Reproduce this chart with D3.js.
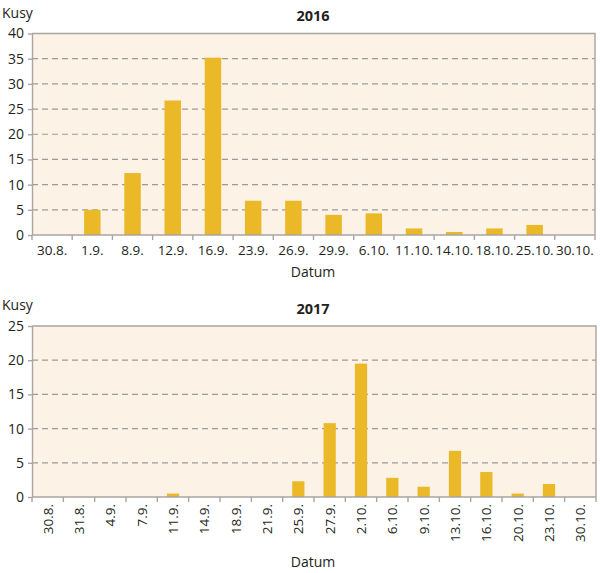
<!DOCTYPE html>
<html><head><meta charset="utf-8">
<script src="https://cdn.jsdelivr.net/npm/d3@7"></script>
<style>body{margin:0;background:#fff}svg{display:block}text{font-family:"Open Sans",sans-serif;fill:#231f20}</style>
</head><body>
<svg id="c" width="600" height="573"></svg>
<script>
const dates2016 = ["30.8.","1.9.","8.9.","12.9.","16.9.","23.9.","26.9.","29.9.","6.10.","11.10.","14.10.","18.10.","25.10.","30.10."];
const values2016 = [0,5,12.3,26.7,35.2,6.8,6.8,4.0,4.3,1.3,0.6,1.3,2.0,0];
const dates2017 = ["30.8.","31.8.","4.9.","7.9.","11.9.","14.9.","18.9.","21.9.","25.9.","27.9.","2.10.","6.10.","9.10.","13.10.","16.10.","20.10.","23.10.","30.10."];
const values2017 = [0,0,0,0,0.5,0,0,0,2.3,10.8,19.5,2.8,1.5,6.75,3.65,0.5,1.9,0];
const yTicks2016 = [0,5,10,15,20,25,30,35,40];
const yTicks2017 = [0,5,10,15,20,25];

const svg = d3.select("#c");
const barColor = "#ebb928", bg = "#fcf2e6", gridC = "#9d9a97";

function panel(o){
  const g = svg.append("g");
  const x = d3.scaleBand().domain(o.cats).range([o.left,o.right]).paddingInner(0).paddingOuter(0);
  const y = d3.scaleLinear().domain([0,o.max]).range([o.bottom,o.top]);
  g.append("rect").attr("x",o.left).attr("y",o.top).attr("width",o.right-o.left).attr("height",o.bottom-o.top).attr("fill",bg);
  g.selectAll(".gr").data(o.ticks.filter(t=>t>0&&t<o.max)).join("line")
    .attr("x1",o.left).attr("x2",o.right).attr("y1",d=>y(d)).attr("y2",d=>y(d))
    .attr("stroke",gridC).attr("stroke-width",1.2).attr("stroke-dasharray","6,4");
  const bw = x.bandwidth()*o.barFrac;
  g.selectAll(".b").data(o.cats.map((c,i)=>({c,v:o.vals[i]}))).join("rect")
    .attr("x",d=>x(d.c)+x.bandwidth()/2-bw/2).attr("width",bw)
    .attr("y",d=>y(d.v)).attr("height",d=>y(0)-y(d.v)).attr("fill",barColor);
  g.append("path").attr("d",`M${o.left},${o.top}H${o.right}V${o.bottom}`).attr("fill","none").attr("stroke","#a8a5a2").attr("stroke-width",1.4);
  const ya = g.append("g").attr("transform",`translate(${o.left},0)`)
    .call(d3.axisLeft(y).tickValues(o.ticks).tickSize(4).tickSizeOuter(0).tickPadding(4));
  ya.select(".domain").attr("stroke","#a8a5a2").attr("stroke-width",1.4);
  ya.selectAll(".tick line").attr("stroke","#a8a5a2").attr("stroke-width",1.4);
  ya.selectAll("text").attr("font-size",14).attr("font-family","Open Sans").attr("fill","#231f20");
  const bounds = o.cats.map(c=>x(c)).concat([o.right]);
  g.append("line").attr("x1",o.left).attr("x2",o.right).attr("y1",o.bottom).attr("y2",o.bottom).attr("stroke","#a8a5a2").attr("stroke-width",1.4);
  g.selectAll(".xt").data(bounds).join("line").attr("x1",d=>d).attr("x2",d=>d).attr("y1",o.bottom).attr("y2",o.bottom+5).attr("stroke","#a8a5a2").attr("stroke-width",1.4);
  const labs = g.selectAll(".xl").data(o.cats).join("text").text(d=>d).attr("font-size",13.5);
  if(o.rotate){
    labs.attr("text-anchor","end").attr("transform",d=>`translate(${x(d)+x.bandwidth()/2+5},${o.bottom+7}) rotate(-90)`);
  } else {
    labs.attr("text-anchor","middle").attr("x",d=>x(d)+x.bandwidth()/2).attr("y",o.bottom+20);
  }
  g.append("text").text("Kusy").attr("x",2).attr("y",o.top-16).attr("font-size",14);
  g.append("text").text(o.title).attr("x",313).attr("y",o.top-12.5).attr("text-anchor","middle").attr("font-size",14.5).attr("font-weight","bold");
  g.append("text").text("Datum").attr("x",313).attr("y",o.xlabY).attr("text-anchor","middle").attr("font-size",14);
}
panel({cats:dates2016,vals:values2016,ticks:yTicks2016,max:40,left:32,right:595,top:33.5,bottom:235,barFrac:0.41,title:"2016",rotate:false,xlabY:277});
panel({cats:dates2017,vals:values2017,ticks:yTicks2017,max:25,left:32,right:596,top:326,bottom:497,barFrac:0.39,title:"2017",rotate:true,xlabY:567});
</script>
</body></html>
